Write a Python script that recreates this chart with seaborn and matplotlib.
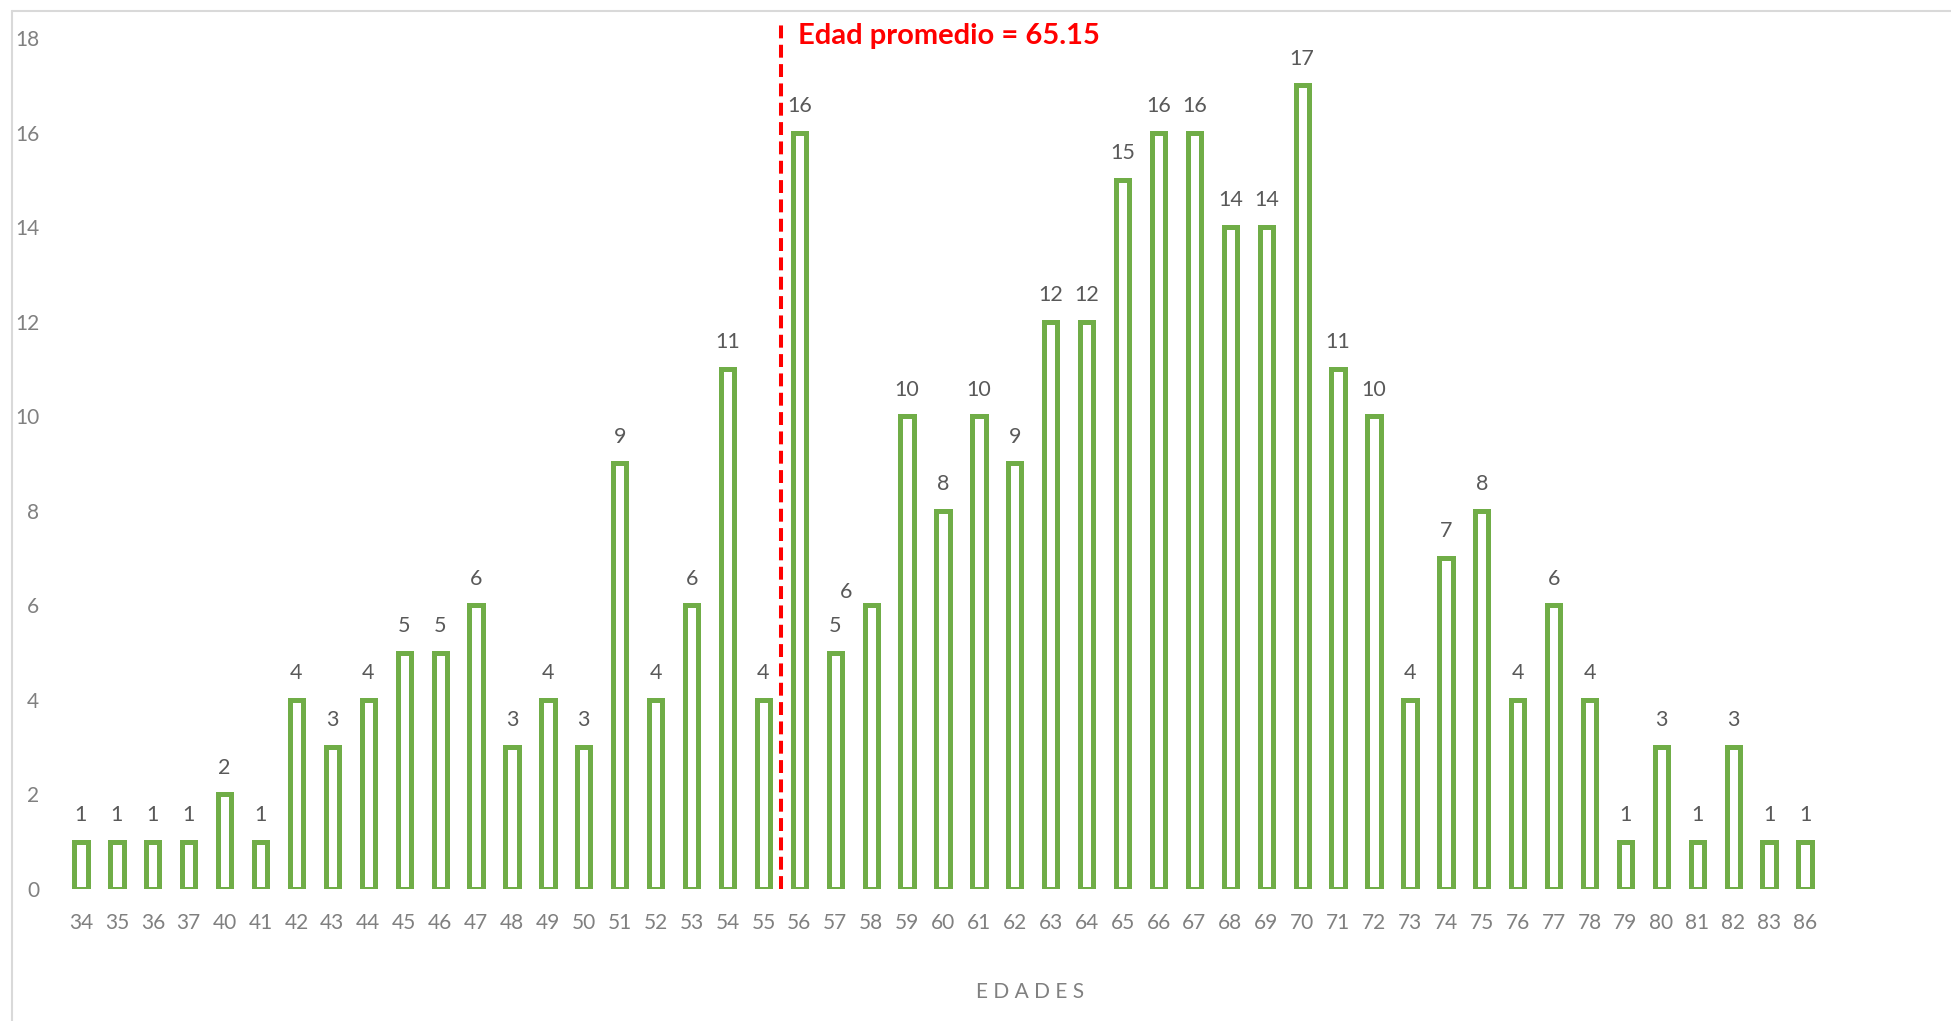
#!/usr/bin/env python3

import matplotlib
matplotlib.use("Agg")
import matplotlib.pyplot as plt
import seaborn as sns
import pandas as pd
from matplotlib.lines import Line2D

# Datos
edades = ["34", "35", "36", "37", "40", "41", "42", "43", "44", "45", "46", "47",
          "48", "49", "50", "51", "52", "53", "54", "55", "56", "57", "58", "59",
          "60", "61", "62", "63", "64", "65", "66", "67", "68", "69", "70", "71",
          "72", "73", "74", "75", "76", "77", "78", "79", "80", "81", "82", "83", "86"]
conteos = [1, 1, 1, 1, 2, 1, 4, 3, 4, 5, 5, 6,
           3, 4, 3, 9, 4, 6, 11, 4, 16, 5, 6, 10,
           8, 10, 9, 12, 12, 15, 16, 16, 14, 14, 17, 11,
           10, 4, 7, 8, 4, 6, 4, 1, 3, 1, 3, 1, 1]
y_ticks = list(range(0, 19, 2))
promedio = 65.15

GREEN = "#70AD47"
GRAY = "#808080"
DARK = "#595959"

df = pd.DataFrame({"edad": edades, "n": conteos})

sns.set_theme(style="white")
plt.rcParams["font.family"] = ["Lato", "DejaVu Sans"]

fig = plt.figure(figsize=(19.51, 10.21), dpi=100)
ax = fig.add_axes([0.0323, 0.1293, 0.9021, 0.8335])

sns.barplot(data=df, x="edad", y="n", order=edades, fill=False,
            color=GREEN, width=0.37, linewidth=3.6, ax=ax)
for p in ax.patches:
    p.set_edgecolor(GREEN)
    p.set_facecolor("white")
    p.set_fill(True)

ax.set_xlim(-0.5, len(edades) - 0.5)
ax.set_ylim(0, 18)
ax.set_yticks(y_ticks)
ax.tick_params(axis="y", labelsize=15, labelcolor=GRAY, length=0, pad=17)
ax.tick_params(axis="x", labelsize=15, labelcolor=GRAY, length=0, pad=17)
sns.despine(ax=ax, left=True, bottom=True)
ax.set_xlabel("")
ax.set_ylabel("")
ax.grid(False)

# etiquetas de valor
labels = ax.bar_label(ax.containers[0], labels=[str(v) for v in conteos],
                      padding=12, fontsize=15.5, color=DARK)
# la etiqueta de 58 esta desplazada en el original
i58 = edades.index("58")
labels[i58].remove()
ax.text(i58 - 0.7, conteos[i58] + 0.28, str(conteos[i58]), ha="center",
        va="center", fontsize=15.5, color=DARK)

# linea del promedio
pos_linea = edades.index("55") + 0.5
ax.axvline(pos_linea, ymin=0, ymax=1.016, color="red", lw=2.9,
           linestyle=(0, (3.2, 1.6)), clip_on=False)
ax.text(pos_linea + 0.45, 18.05, f"Edad promedio = {promedio}", color="red",
        fontsize=21, fontweight="bold", ha="left", va="center")

fig.text(0.528, 0.028, "E D A D E S", ha="center", va="center",
         fontsize=15, color=GRAY)

# borde del area del grafico
fig.add_artist(Line2D([12 / 1951, 1.0], [1 - 11 / 1021, 1 - 11 / 1021],
                      color="#D9D9D9", lw=1.5, transform=fig.transFigure))
fig.add_artist(Line2D([12 / 1951, 12 / 1951], [0, 1 - 11 / 1021],
                      color="#D9D9D9", lw=1.5, transform=fig.transFigure))

fig.savefig("out.png", dpi=100, facecolor="white")
